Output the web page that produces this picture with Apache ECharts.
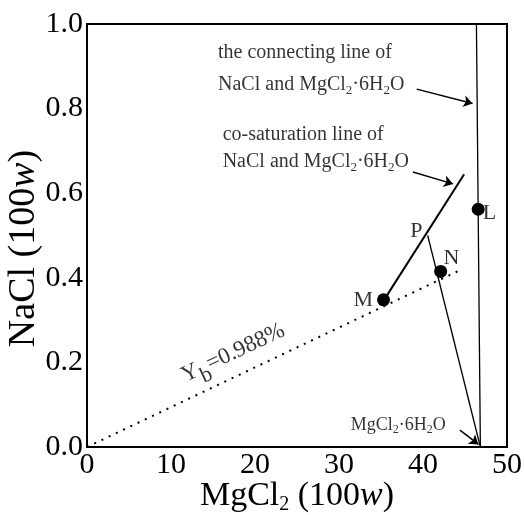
<!DOCTYPE html>
<html>
<head>
<meta charset="utf-8">
<script src="https://cdn.jsdelivr.net/npm/echarts@6/dist/echarts.min.js"></script>
<style>
  html, body { margin: 0; padding: 0; background: #fff; }
  #chart { width: 524px; height: 515px; }
</style>
</head>
<body>
<div id="chart"></div>
<script>
// axis ticks
const xTicks = [0, 10, 20, 30, 40, 50]
const yTicks = [0, 0.2, 0.4, 0.6, 0.8, 1.0]

// marked points [MgCl2, NaCl]
const pointM = [35.3, 0.348]
const pointN = [42.1, 0.415]
const pointL = [46.57, 0.562]

// lines
const connectingLine = [[46.83, 0], [46.36, 1.0]]      // NaCl - MgCl2·6H2O
const coSaturationLine = [[35.5, 0.352], [44.9, 0.645]]
const pLine = [[40.56, 0.50], [46.83, 0]]
const ybLine = [[0, 0], [44.3, 0.417]]

// annotation arrows
const arrows = [
    [[39.25, 0.846], [45.9, 0.812]],
    [[38.8, 0.650], [43.57, 0.622]],
    [[44.4, 0.040], [46.6, 0.006]]
]

// text notes [x, y, text]
const notes = [
    [15.6, 0.931, 'the connecting line of'],
    [15.6, 0.856, 'NaCl and MgCl{s|2}·6H{s|2}O'],
    [16.15, 0.738, 'co-saturation line of'],
    [16.15, 0.674, 'NaCl and MgCl{s|2}·6H{s|2}O']
]
const smallNote = [31.4, 0.052, 'MgCl{t|2}·6H{t|2}O']
const pointLabels = [
    [32.9, 0.348, 'M'],
    [39.2, 0.509, 'P'],
    [43.4, 0.447, 'N'],
    [47.9, 0.553, 'L']
]
const ybLabel = [17.4, 0.222, 'Y{b|b}=0.988%']

const FONT = "'Liberation Serif', 'Times New Roman', serif"

const chart = echarts.init(document.getElementById('chart'))

const subStyle = (size, drop) => ({ fontSize: size, fontFamily: FONT, color: '#000', padding: [drop, 0, 0, 0] })

const lineSeries = (data, width, type) => ({
    type: 'line',
    data: data,
    showSymbol: false,
    silent: true,
    animation: false,
    lineStyle: { color: '#000', width: width, type: type || 'solid' },
    z: 3
})

const labelSeries = (data, size, extra) => ({
    type: 'scatter',
    data: data,
    symbolSize: 0,
    silent: true,
    animation: false,
    label: Object.assign({
        show: true,
        position: 'right',
        distance: 0,
        formatter: p => p.data[2],
        fontSize: size,
        fontFamily: FONT,
        color: '#000',
        rich: { s: subStyle(13, 11), t: subStyle(12, 9), b: subStyle(22, 18) }
    }, extra || {}),
    z: 5
})

chart.setOption({
    animation: false,
    grid: {
        left: 87,
        right: 17,
        top: 24,
        bottom: 68,
        outerBoundsMode: 'none',
        containLabel: false,
        show: true,
        borderColor: '#000',
        borderWidth: 2
    },
    xAxis: {
        type: 'value',
        min: xTicks[0],
        max: xTicks[xTicks.length - 1],
        interval: 10,
        name: 'MgCl{s|2} (100{i|w})',
        nameLocation: 'middle',
        nameGap: 30,
        nameMoveOverlap: false,
        nameTextStyle: {
            fontSize: 34, fontFamily: FONT, color: '#000',
            rich: { s: subStyle(20, 18), i: { fontSize: 34, fontFamily: FONT, fontStyle: 'italic', color: '#000' } }
        },
        axisLine: { lineStyle: { color: '#000', width: 2 } },
        axisTick: { show: false },
        splitLine: { show: false },
        axisLabel: { fontSize: 30, fontFamily: FONT, color: '#000', margin: 3 }
    },
    yAxis: {
        type: 'value',
        min: yTicks[0],
        max: yTicks[yTicks.length - 1],
        interval: 0.2,
        name: 'NaCl (100{i|w})',
        nameLocation: 'middle',
        nameGap: 44,
        nameMoveOverlap: false,
        nameTextStyle: {
            fontSize: 38, fontFamily: FONT, color: '#000',
            padding: [0, 26, 0, 0],
            rich: { i: { fontSize: 38, fontFamily: FONT, fontStyle: 'italic', color: '#000' } }
        },
        axisLine: { lineStyle: { color: '#000', width: 2 } },
        axisTick: { show: false },
        splitLine: { show: false },
        axisLabel: { fontSize: 30, fontFamily: FONT, color: '#000', margin: 4, formatter: v => v.toFixed(1) }
    },
    series: [
        lineSeries(connectingLine, 1.3),
        lineSeries(coSaturationLine, 2),
        lineSeries(pLine, 1.3),
        lineSeries(ybLine, 2, [2, 6]),
        {
            type: 'lines',
            coordinateSystem: 'cartesian2d',
            silent: true,
            animation: false,
            symbol: ['none', 'arrow'],
            symbolSize: 9,
            lineStyle: { color: '#000', width: 1.5, opacity: 1 },
            data: arrows.map(a => ({ coords: a })),
            z: 4
        },
        {
            type: 'scatter',
            data: [pointM, pointN, pointL],
            symbolSize: 13,
            itemStyle: { color: '#000', opacity: 1 },
            silent: true,
            animation: false,
            z: 6
        },
        labelSeries(notes, 20),
        labelSeries([smallNote], 18),
        labelSeries(pointLabels, 22, { position: 'inside', distance: 0 }),
        labelSeries([ybLabel], 23, { position: 'inside', rotate: 25 })
    ]
})
</script>
</body>
</html>
